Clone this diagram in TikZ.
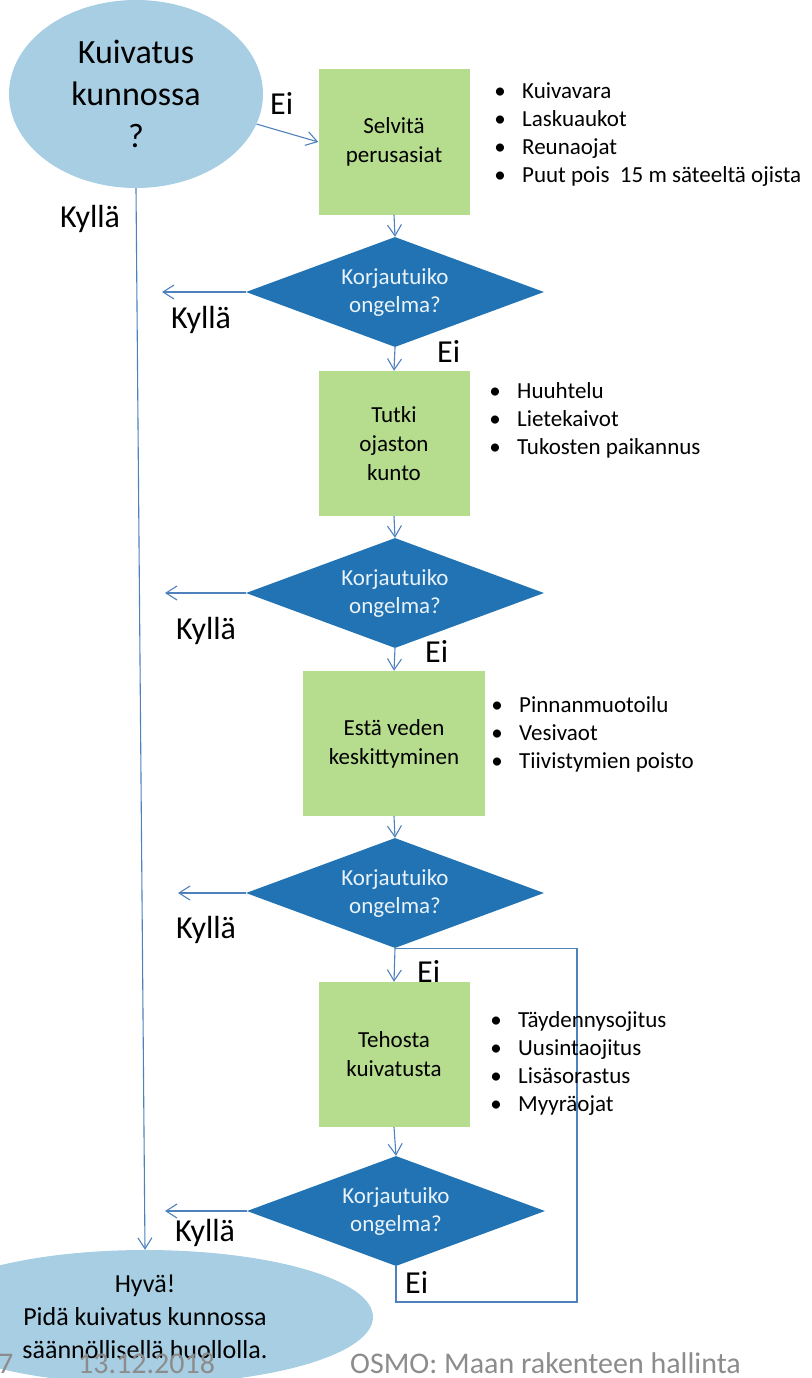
\documentclass[tikz,border=0pt]{standalone}
\usepackage{fontspec}
\setmainfont{Carlito}
\usetikzlibrary{shapes.geometric,arrows.meta}
\definecolor{lineblue}{HTML}{4F81BD}
\definecolor{ellblue}{HTML}{A7CEE3}
\definecolor{boxgreen}{HTML}{B6DC8E}
\definecolor{diablue}{HTML}{2173B3}
\definecolor{diatext}{HTML}{EAF2FA}
\definecolor{footgray}{HTML}{8C8C8C}
\newcommand\bitem[1]{\makebox[0pt][c]{•}\hspace{22pt}#1}
\begin{document}
\begin{tikzpicture}[x=1pt,y=-1pt,
 conn/.style={draw=lineblue, line width=1.1pt},
 arr/.style={conn, -{Straight Barb[length=11pt,width=14pt]}},
 stepbox/.style={draw=none, fill=boxgreen, inner sep=0, minimum width=151pt, minimum height=145pt, align=center, font=\fontsize{23}{29}\selectfont},
 decision/.style={diamond, fill=diablue, shape aspect=2.7, inner sep=0, minimum width=298pt, minimum height=110pt, align=center, text=diatext, font=\fontsize{23}{28}\selectfont},
 lbl/.style={anchor=base west, inner sep=0, font=\fontsize{32}{38}\selectfont},
 blist/.style={anchor=base west, inner sep=0, font=\fontsize{23}{28}\selectfont},
 foot/.style={anchor=base west, inner sep=0, text=footgray, font=\fontsize{30}{36}\selectfont},
 terminal/.style={ellipse, fill=ellblue, align=center},
]
\useasboundingbox (0,0) rectangle (811,1378);
\clip (0,0) rectangle (811,1378);

% terminals
\node[terminal, minimum width=254pt, minimum height=188pt, inner sep=0, font=\fontsize{34}{42}\selectfont] (start) at (136,94) {Kuivatus\\kunnossa\\?};
\node[terminal, minimum width=456pt, minimum height=134pt, inner xsep=0, inner ysep=-8pt, font=\fontsize{26}{33}\selectfont] (good) at (145,1317) {Hyvä!\\Pidä kuivatus kunnossa\\säännöllisellä huollolla.};

% steps
\node[stepbox] (s1) at (394,142) {Selvitä\\perusasiat};
\node[stepbox] (s2) at (394,443.5) {Tutki\\ojaston\\kunto};
\node[stepbox, minimum width=182pt] (s3) at (394,743.5) {Estä veden\\keskittyminen};
\node[stepbox] (s4) at (394,1054.5) {Tehosta\\kuivatusta};

% decisions
\node[decision] (d1) at (395,292) {Korjautuiko\\ongelma?};
\node[decision] (d2) at (395,593) {Korjautuiko\\ongelma?};
\node[decision] (d3) at (395,893) {Korjautuiko\\ongelma?};
\node[decision] (d4) at (396,1211) {Korjautuiko\\ongelma?};

% free ends
\coordinate (k1) at (162,292);
\coordinate (k2) at (165,593);
\coordinate (k3) at (178,893);
\coordinate (k4) at (165,1211);
\coordinate (loopc) at (577,1302);

% connectors
\draw[arr] (start.-14) -- (s1.west);
\draw[arr] (start.south) -- (good.north);
\draw[arr] (s1.south) -- (d1.north);
\draw[arr] (d1.south) -- (s2.north);
\draw[arr] (s2.south) -- (d2.north);
\draw[arr] (d2.south) -- (s3.north);
\draw[arr] (s3.south) -- (d3.north);
\draw[arr] (d3.south) -- (s4.north);
\draw[arr] (s4.south) -- (d4.north);
\draw[arr] (d1.west) -- (k1);
\draw[arr] (d2.west) -- (k2);
\draw[arr] (d3.west) -- (k3);
\draw[arr] (d4.west) -- (k4);
\draw[conn] (d3.south) -| (loopc) -| (d4.south);

% labels
\node[lbl] (eiA) at (270,115) {Ei};
\node[lbl] (kyA) at (60,227) {Kyllä};
\node[lbl] (ky1) at (171,328) {Kyllä};
\node[lbl] (ei1) at (437,362) {Ei};
\node[lbl] (ky2) at (176,639) {Kyllä};
\node[lbl] (ei2) at (425,662) {Ei};
\node[lbl] (ky3) at (176,938) {Kyllä};
\node[lbl] (ei3) at (417,982) {Ei};
\node[lbl] (ky4) at (175,1241) {Kyllä};
\node[lbl] (ei4) at (405,1293) {Ei};

% bullet lists
\node[blist] (b1) at (500,99) {\begin{tabular}[t]{@{}l@{}}\bitem{Kuivavara}\\\bitem{Laskuaukot}\\\bitem{Reunaojat}\\\bitem{Puut pois\ \ 15 m säteeltä ojista}\end{tabular}};
\node[blist] (b2) at (495,398) {\begin{tabular}[t]{@{}l@{}}\bitem{Huuhtelu}\\\bitem{Lietekaivot}\\\bitem{Tukosten paikannus}\end{tabular}};
\node[blist] (b3) at (497,712) {\begin{tabular}[t]{@{}l@{}}\bitem{Pinnanmuotoilu}\\\bitem{Vesivaot}\\\bitem{Tiivistymien poisto}\end{tabular}};
\node[blist] (b4) at (496,1027) {\begin{tabular}[t]{@{}l@{}}\bitem{Täydennysojitus}\\\bitem{Uusintaojitus}\\\bitem{Lisäsorastus}\\\bitem{Myyräojat}\end{tabular}};

% footer
\node[foot] (pg) at (-2,1373) {7};
\node[foot] (date) at (78,1373) {13.12.2018};
\node[foot] (title) at (350,1373) {OSMO: Maan rakenteen hallinta};
\end{tikzpicture}
\end{document}
